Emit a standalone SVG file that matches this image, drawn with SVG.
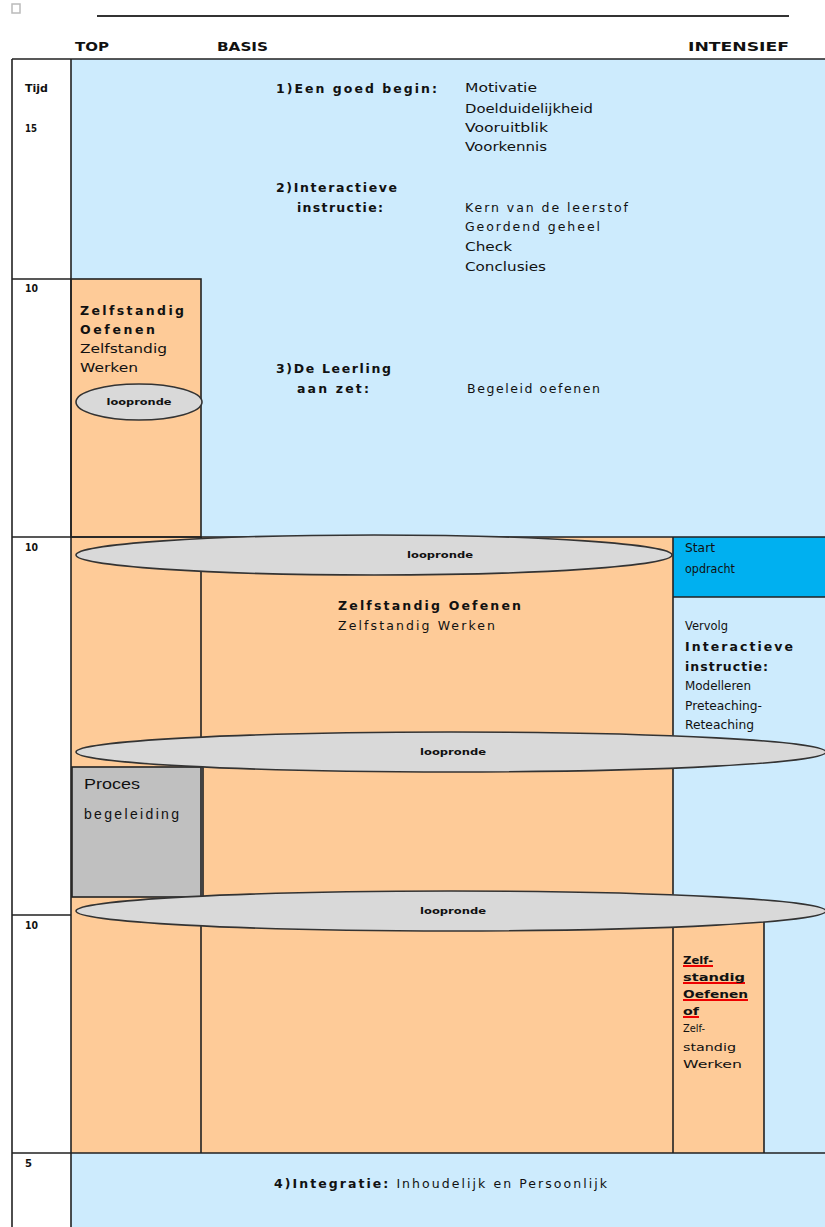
<svg xmlns="http://www.w3.org/2000/svg" width="825" height="1227" viewBox="0 0 825 1227">
<style>
text{font-family:"DejaVu Sans","Liberation Sans",sans-serif;fill:#111;font-size:12.5px}
.b{font-weight:bold}
.h{font-size:12px}
.s{font-size:10.5px}
.ln{stroke:#222;stroke-width:1.6;fill:none}
.blue{fill:#cdebfd}
.or{fill:#fecb98}
.ell{fill:#d9d9d9;stroke:#333;stroke-width:1.6}
.lp{font-size:8.5px;font-weight:bold;text-anchor:middle}
.pr{font-family:"Liberation Sans","DejaVu Sans",sans-serif;font-size:14px}
.sq{stroke:#e00;stroke-width:2;fill:none}
</style>
<rect width="825" height="1227" fill="#fff"/>
<g id="header">
<rect x="12" y="4" width="8" height="9" fill="none" stroke="#bbb" stroke-width="1.5"/>
<line x1="97" y1="16" x2="789" y2="16" stroke="#333" stroke-width="2"/>
<text class="b h" x="75" y="51" textLength="34" lengthAdjust="spacingAndGlyphs">TOP</text>
<text class="b h" x="217" y="51" textLength="51" lengthAdjust="spacingAndGlyphs">BASIS</text>
<text class="b h" x="688" y="51" textLength="101" lengthAdjust="spacingAndGlyphs">INTENSIEF</text>
</g>
<g id="backgrounds">
<rect x="12" y="59" width="59" height="1168" fill="#fff"/>
<rect class="blue" x="71" y="59" width="754" height="478"/>
<rect class="or" x="71" y="537" width="602" height="616"/>
<rect class="blue" x="673" y="537" width="152" height="616"/>
<rect class="blue" x="71" y="1153" width="754" height="74"/>
</g>
<g id="time-column">
<text class="b s" x="25" y="92" textLength="23" lengthAdjust="spacingAndGlyphs">Tijd</text>
<text class="b s" x="25" y="132" textLength="12" lengthAdjust="spacingAndGlyphs">15</text>
<text class="b s" x="25" y="292" textLength="13" lengthAdjust="spacingAndGlyphs">10</text>
<text class="b s" x="25" y="551" textLength="13" lengthAdjust="spacingAndGlyphs">10</text>
<text class="b s" x="25" y="929" textLength="13" lengthAdjust="spacingAndGlyphs">10</text>
<text class="b s" x="25" y="1167" textLength="7" lengthAdjust="spacingAndGlyphs">5</text>
</g>
<g id="instructie">
<text class="b" x="276" y="93" textLength="161" lengthAdjust="spacing">1)Een goed begin:</text>
<text x="465" y="92" textLength="72" lengthAdjust="spacingAndGlyphs">Motivatie</text>
<text x="465" y="113" textLength="128" lengthAdjust="spacingAndGlyphs">Doelduidelijkheid</text>
<text x="465" y="132" textLength="83" lengthAdjust="spacingAndGlyphs">Vooruitblik</text>
<text x="465" y="151" textLength="82" lengthAdjust="spacingAndGlyphs">Voorkennis</text>
<text class="b" x="276" y="192" textLength="121" lengthAdjust="spacing">2)Interactieve</text>
<text class="b" x="297" y="212" textLength="86" lengthAdjust="spacing">instructie:</text>
<text x="465" y="212" textLength="163" lengthAdjust="spacing">Kern van de leerstof</text>
<text x="465" y="231" textLength="135" lengthAdjust="spacing">Geordend geheel</text>
<text x="465" y="251" textLength="47" lengthAdjust="spacingAndGlyphs">Check</text>
<text x="465" y="271" textLength="81" lengthAdjust="spacingAndGlyphs">Conclusies</text>
<text class="b" x="276" y="373" textLength="115" lengthAdjust="spacing">3)De Leerling</text>
<text class="b" x="297" y="393" textLength="72" lengthAdjust="spacing">aan zet:</text>
<text x="467" y="393" textLength="133" lengthAdjust="spacing">Begeleid oefenen</text>
</g>
<g id="top-zelfstandig">
<rect class="or" x="71" y="279" width="130" height="258" stroke="#222" stroke-width="1.6"/>
<text class="b" x="80" y="315" textLength="104" lengthAdjust="spacing">Zelfstandig</text>
<text class="b" x="80" y="334" textLength="75" lengthAdjust="spacing">Oefenen</text>
<text x="80" y="353" textLength="87" lengthAdjust="spacingAndGlyphs">Zelfstandig</text>
<text x="80" y="372" textLength="58" lengthAdjust="spacingAndGlyphs">Werken</text>
<ellipse class="ell" cx="139" cy="402" rx="63" ry="18"/>
<text class="lp" x="139" y="405" textLength="65" lengthAdjust="spacingAndGlyphs">loopronde</text>
</g>
<g id="start-opdracht">
<rect x="673" y="537" width="152" height="60" fill="#00b0f0"/>
<text x="685" y="552" textLength="30" lengthAdjust="spacingAndGlyphs">Start</text>
<text x="685" y="573" textLength="50" lengthAdjust="spacingAndGlyphs">opdracht</text>
</g>
<g id="zelfstandig-midden">
<text class="b" x="338" y="610" textLength="183" lengthAdjust="spacing">Zelfstandig Oefenen</text>
<text x="338" y="630" textLength="157" lengthAdjust="spacing">Zelfstandig Werken</text>
</g>
<g id="vervolg">
<text x="685" y="630" textLength="43" lengthAdjust="spacingAndGlyphs">Vervolg</text>
<text class="b" x="685" y="651" textLength="108" lengthAdjust="spacing">Interactieve</text>
<text class="b" x="685" y="671" textLength="83" lengthAdjust="spacing">instructie:</text>
<text x="685" y="690" textLength="66" lengthAdjust="spacingAndGlyphs">Modelleren</text>
<text x="685" y="710" textLength="77" lengthAdjust="spacingAndGlyphs">Preteaching-</text>
<text x="685" y="729" textLength="69" lengthAdjust="spacingAndGlyphs">Reteaching</text>
</g>
<g id="proces">
<rect x="72" y="767" width="131" height="130" fill="#c0c0c0" stroke="#222" stroke-width="1.6"/>
<text class="pr" x="84" y="789" textLength="56" lengthAdjust="spacingAndGlyphs">Proces</text>
<text class="pr" x="84" y="819" textLength="95" lengthAdjust="spacing">begeleiding</text>
</g>
<g id="zelfstandig-intensief">
<rect class="or" x="673" y="915" width="91" height="238"/>
<path class="sq" d="M683 966 H713 M683 983 H745 M683 1000 H748 M683 1017 H699"/>
<text class="b s" x="683" y="964" textLength="30" lengthAdjust="spacingAndGlyphs">Zelf-</text>
<text class="b s" x="683" y="981" textLength="62" lengthAdjust="spacingAndGlyphs">standig</text>
<text class="b s" x="683" y="998" textLength="65" lengthAdjust="spacingAndGlyphs">Oefenen</text>
<text class="b s" x="683" y="1015" textLength="16" lengthAdjust="spacingAndGlyphs">of</text>
<text class="s" x="683" y="1032" textLength="22" lengthAdjust="spacingAndGlyphs">Zelf-</text>
<text class="s" x="683" y="1051" textLength="53" lengthAdjust="spacingAndGlyphs">standig</text>
<text class="s" x="683" y="1068" textLength="59" lengthAdjust="spacingAndGlyphs">Werken</text>
</g>
<g id="grid-lines">
<path class="ln" d="M12 59 H825 M12 59 V1227 M71 59 V1227 M12 279 H71 M12 537 H825 M201 537 V1153 M673 537 V1153 M673 597 H825 M12 915 H71 M764 915 V1153 M12 1153 H825"/>
</g>
<g id="loopronde-1">
<ellipse class="ell" cx="374" cy="555" rx="298" ry="20"/>
<text class="lp" x="440" y="558" textLength="66" lengthAdjust="spacingAndGlyphs">loopronde</text>
</g>
<g id="loopronde-2">
<ellipse class="ell" cx="451" cy="752" rx="375" ry="20"/>
<text class="lp" x="453" y="755" textLength="66" lengthAdjust="spacingAndGlyphs">loopronde</text>
</g>
<g id="loopronde-3">
<ellipse class="ell" cx="451" cy="911" rx="375" ry="20"/>
<text class="lp" x="453" y="914" textLength="66" lengthAdjust="spacingAndGlyphs">loopronde</text>
</g>
<g id="integratie">
<text x="274" y="1188" textLength="333" lengthAdjust="spacing"><tspan class="b">4)Integratie:</tspan> Inhoudelijk en Persoonlijk</text>
</g>
</svg>
